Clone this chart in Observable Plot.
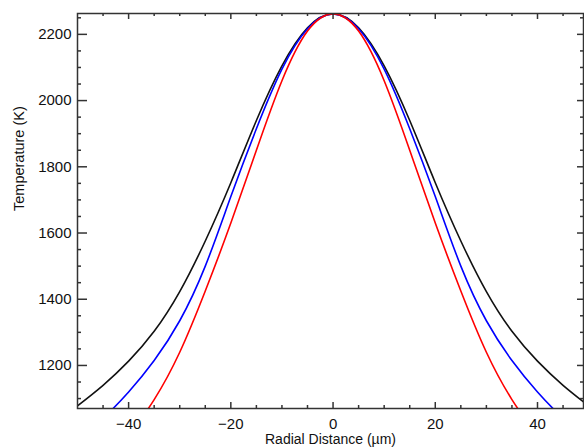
<!DOCTYPE html>
<html><head><meta charset="utf-8">
<script src="https://cdn.jsdelivr.net/npm/d3@7"></script>
<script src="https://cdn.jsdelivr.net/npm/@observablehq/plot@0.6"></script>
<style>body{margin:0;background:#fff;} #chart svg{display:block;}</style>
</head><body><div id="chart"></div>
<script>
// Radial distance (µm)
const radius = [-50,-45,-40,-35,-30,-25,-20,-15,-10,-5,0,5,10,15,20,25,30,35,40,45,50];
// Temperature (K) for the three profiles
const tempBlack = [1078,1140,1213,1303,1423,1576,1752,1940,2105,2220,2262,2220,2105,1940,1752,1576,1423,1303,1213,1140,1078];
const tempBlue  = [970,1040,1120,1215,1335,1500,1710,1915,2095,2217,2262,2217,2095,1915,1710,1500,1335,1215,1120,1040,970];
const tempRed   = [835,905,990,1097,1240,1425,1630,1850,2060,2210,2262,2210,2060,1850,1630,1425,1240,1097,990,905,835];

const xMajorTicks = [-40,-20,0,20,40];
const xMinorTicks = [-45,-35,-30,-25,-15,-10,-5,5,10,15,25,30,35,45];
const yMajorTicks = [1200,1400,1600,1800,2000,2200];
const yMinorTicks = [1100,1150,1250,1300,1350,1450,1500,1550,1650,1700,1750,1850,1900,1950,2050,2100,2150,2250];

const xLabel = "Radial Distance (µm)";
const yLabel = "Temperature (K)";

const W = 584, H = 448;
const mL = 77, mR = 1, mT = 13, mB = 40;
const frameW = W - mL - mR, frameH = H - mT - mB;
const axisColor = "#333";

const chart = Plot.plot({
  width: W,
  height: H,
  marginLeft: mL,
  marginRight: mR,
  marginTop: mT,
  marginBottom: mB,
  style: {fontFamily: "'Liberation Sans', Arial, sans-serif", fontSize: "15px", color: "#111", background: "#fff"},
  x: {domain: [-50, 49], label: null},
  y: {domain: [1070, 2263], label: null},
  marks: [
    Plot.lineY(tempBlack, {x: radius, curve: "natural", stroke: "#111", strokeWidth: 1.6, clip: true}),
    Plot.lineY(tempBlue, {x: radius, curve: "natural", stroke: "#0000ff", strokeWidth: 1.6, clip: true}),
    Plot.lineY(tempRed, {x: radius, curve: "natural", stroke: "#ff0000", strokeWidth: 1.6, clip: true}),
    // inward ticks: bottom & top
    Plot.tickX(xMajorTicks, {x: d => d, insetTop: frameH - 6, stroke: axisColor, strokeWidth: 1.5}),
    Plot.tickX(xMinorTicks, {x: d => d, insetTop: frameH - 3, stroke: axisColor, strokeWidth: 1.5}),
    Plot.tickX(xMajorTicks, {x: d => d, insetBottom: frameH - 6, stroke: axisColor, strokeWidth: 1.5}),
    Plot.tickX(xMinorTicks, {x: d => d, insetBottom: frameH - 3, stroke: axisColor, strokeWidth: 1.5}),
    // inward ticks: left & right
    Plot.tickY(yMajorTicks, {y: d => d, insetRight: frameW - 10, stroke: axisColor, strokeWidth: 1.5}),
    Plot.tickY(yMinorTicks, {y: d => d, insetRight: frameW - 4, stroke: axisColor, strokeWidth: 1.5}),
    Plot.tickY(yMajorTicks, {y: d => d, insetLeft: frameW - 6, stroke: axisColor, strokeWidth: 1.5}),
    Plot.tickY(yMinorTicks, {y: d => d, insetLeft: frameW - 3, stroke: axisColor, strokeWidth: 1.5}),
    Plot.frame({stroke: axisColor, strokeWidth: 1.5}),
    // tick labels
    Plot.axisX({anchor: "bottom", ticks: xMajorTicks, tickSize: 0, tickPadding: 10, label: null, fill: "#111"}),
    Plot.axisY({anchor: "left", ticks: yMajorTicks, tickSize: 0, tickPadding: 6, tickFormat: d3.format("d"), label: null, fill: "#111"}),
    // axis titles
    Plot.text([xLabel], {frameAnchor: "bottom", dy: 35, text: d => d, fill: "#111", fontSize: 14}),
    Plot.text([yLabel], {frameAnchor: "left", dx: -58, rotate: -90, text: d => d, fill: "#111", fontSize: 14.5})
  ]
});
document.getElementById("chart").appendChild(chart);
</script>
</body></html>
